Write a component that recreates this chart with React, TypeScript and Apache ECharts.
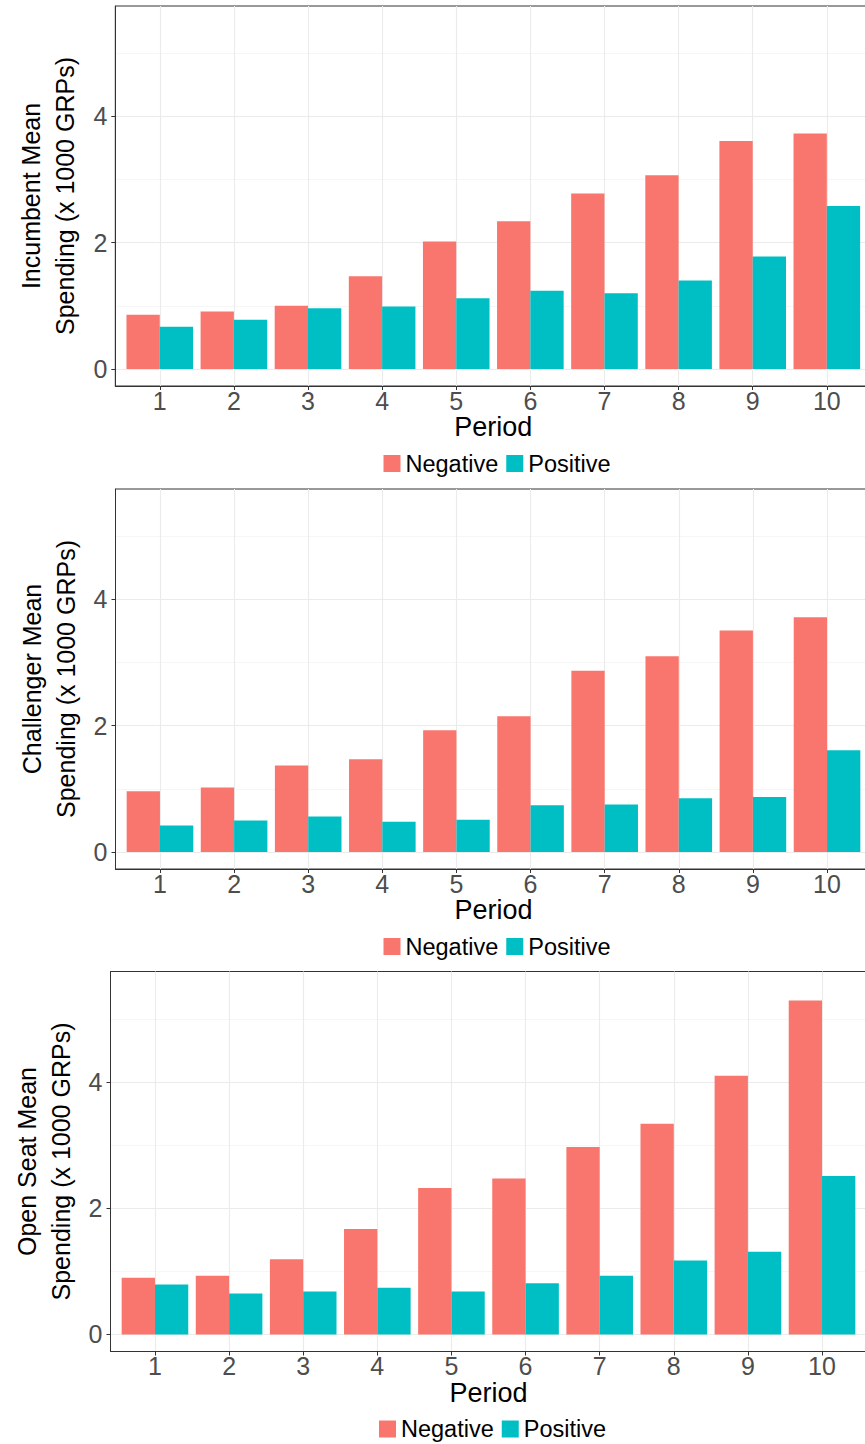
import { useEffect, useRef } from "react";
import * as echarts from "echarts";

const periods = [1, 2, 3, 4, 5, 6, 7, 8, 9, 10];
const incumbentNegative = [0.86, 0.91, 1.0, 1.47, 2.02, 2.34, 2.78, 3.07, 3.61, 3.73];
const incumbentPositive = [0.67, 0.78, 0.96, 0.99, 1.12, 1.24, 1.2, 1.4, 1.78, 2.58];
const challengerNegative = [0.96, 1.02, 1.37, 1.47, 1.93, 2.15, 2.87, 3.1, 3.51, 3.72];
const challengerPositive = [0.42, 0.5, 0.56, 0.48, 0.51, 0.74, 0.75, 0.85, 0.87, 1.61];
const openSeatNegative = [0.9, 0.93, 1.19, 1.67, 2.32, 2.47, 2.97, 3.34, 4.1, 5.29];
const openSeatPositive = [0.79, 0.65, 0.68, 0.74, 0.68, 0.81, 0.93, 1.17, 1.31, 2.51];
const yMajorTicks = [0, 2, 4];
const yMinorTicks = [1, 3, 5];
const seriesNames = ["Negative", "Positive"];
const panelTitles = [
  "Incumbent Mean\nSpending (x 1000 GRPs)",
  "Challenger Mean\nSpending (x 1000 GRPs)",
  "Open Seat Mean\nSpending (x 1000 GRPs)",
];
const xAxisTitle = "Period";

const COLORS = ["#F8766D", "#00BFC4"];
const FONT = "'Liberation Sans', Arial, Helvetica, sans-serif";
const BORDER = "#333333";

export default function App() {
  const ref = useRef<HTMLDivElement>(null);

  useEffect(() => {
    if (!ref.current) return;
    const chart = echarts.init(ref.current, null, { renderer: "svg" });

    const panels = [
      { values: [incumbentNegative, incumbentPositive], top: 6, left: 115.3, legendLeft: 378.5 },
      { values: [challengerNegative, challengerPositive], top: 489, left: 115.5, legendLeft: 378.5 },
      { values: [openSeatNegative, openSeatPositive], top: 971.5, left: 110.5, legendLeft: 374 },
    ];
    const H = 380;
    const W = 756;
    const yMin = -0.27;
    const yMax = 5.75;

    const grid: any[] = [];
    const xAxis: any[] = [];
    const yAxis: any[] = [];
    const series: any[] = [];
    const legend: any[] = [];

    panels.forEach((p, i) => {
      grid.push({
        left: p.left,
        top: p.top,
        width: W,
        height: H,
        show: true,
        backgroundColor: "#ffffff",
        borderColor: BORDER,
        borderWidth: 1,
        containLabel: false,
      });
      xAxis.push({
        type: "value",
        gridIndex: i,
        min: 0.4,
        max: 10.6,
        name: xAxisTitle,
        nameLocation: "middle",
        nameGap: 25,
        nameTextStyle: { color: "#000000", fontSize: 27, fontFamily: FONT },
        axisLine: { show: true, onZero: false, lineStyle: { color: BORDER, width: 1 } },
        axisTick: { show: true, length: 4, customValues: periods, lineStyle: { color: BORDER } },
        axisLabel: { customValues: periods, color: "#4d4d4d", fontSize: 25, margin: 2, fontFamily: FONT },
        splitLine: { show: true, lineStyle: { color: "#ebebeb", width: 1.1 } },
      });
      yAxis.push({
        type: "value",
        gridIndex: i,
        min: yMin,
        max: yMax,
        name: panelTitles[i],
        nameLocation: "middle",
        nameRotate: 90,
        nameGap: 32,
        nameTextStyle: { color: "#000000", fontSize: 25, lineHeight: 34, fontFamily: FONT },
        axisLine: { show: true, onZero: false, lineStyle: { color: BORDER, width: 1 } },
        axisTick: { show: true, length: 4, customValues: yMajorTicks, lineStyle: { color: BORDER } },
        axisLabel: { customValues: yMajorTicks, color: "#4d4d4d", fontSize: 25, margin: 8, fontFamily: FONT },
        splitLine: { show: true, lineStyle: { color: "#ebebeb", width: 1.1 } },
      });
      yAxis.push({
        type: "value",
        gridIndex: i,
        min: yMin,
        max: yMax,
        axisLine: { show: false },
        axisTick: { show: false, customValues: yMinorTicks },
        axisLabel: { show: false, customValues: yMinorTicks },
        splitLine: { show: true, lineStyle: { color: "#f2f2f2", width: 0.7 } },
      });
      p.values.forEach((vals, k) => {
        series.push({
          type: "bar",
          name: seriesNames[k],
          xAxisIndex: i,
          yAxisIndex: 2 * i,
          data: periods.map((per, j) => [per, vals[j]]),
          barWidth: 33.3,
          barGap: "0%",
          itemStyle: { color: COLORS[k] },
          z: 3,
        });
      });
      legend.push({
        data: seriesNames,
        left: p.legendLeft,
        top: p.top + H + 60.5,
        orient: "horizontal",
        icon: "rect",
        itemWidth: 17,
        itemHeight: 17,
        itemGap: 8,
        selectedMode: false,
        textStyle: { fontSize: 23.5, color: "#000000", fontFamily: FONT },
      });
    });

    chart.setOption({
      animation: false,
      backgroundColor: "#ffffff",
      color: COLORS,
      textStyle: { fontFamily: FONT },
      grid,
      xAxis,
      yAxis,
      series,
      legend,
    });

    return () => chart.dispose();
  }, []);

  return (
    <div
      style={{ position: "absolute", left: 0, top: 0, width: 865, height: 1444, overflow: "hidden" }}
    >
      <div ref={ref} style={{ width: 880, height: 1444 }} />
    </div>
  );
}
